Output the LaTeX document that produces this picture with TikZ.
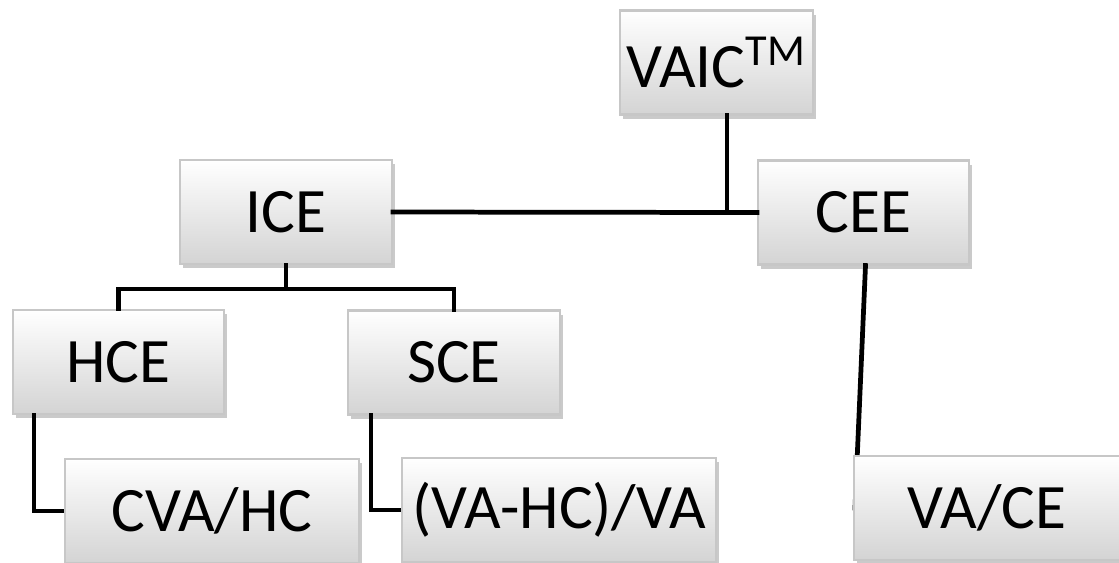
\documentclass[tikz,border=0pt]{standalone}
\usepackage{fontspec}
\setmainfont{Carlito}
\usetikzlibrary{shadows,calc}
\tikzstyle{every node}=[font=\fontsize{18}{20}\selectfont, text centered]
\tikzstyle{box} = [rectangle, draw=black!22, line width=0.6pt, top color=white, bottom color=black!17, minimum height=1.04cm, inner sep=0pt, drop shadow={shadow xshift=0.03cm, shadow yshift=-0.04cm, opacity=0.35, fill=black!60}]
\tikzstyle{line} = [draw, line width=1.35pt, line cap=rect]
\begin{document}
\begin{tikzpicture}
    \useasboundingbox (0,0) rectangle (11.19,-5.62);
    \coordinate (vaicNode) at (7.165,-0.625);
    \coordinate (iceNode) at (2.86,-2.12);
    \coordinate (ceeNode) at (8.635,-2.125);
    \coordinate (hceNode) at (1.185,-3.62);
    \coordinate (sceNode) at (4.54,-3.625);
    \coordinate (cvaNode) at (2.12,-5.11);
    \coordinate (vahcNode) at (5.59,-5.10);
    \coordinate (vaceNode) at (9.87,-5.08);

    % connectors first, boxes on top
    \node[box, minimum width=1.93cm] (vaic) at (vaicNode) {VAIC\textsuperscript{TM}};
    \node[box, minimum width=2.12cm] (ice) at (iceNode) {ICE};
    \node[box, minimum width=2.11cm] (cee) at (ceeNode) {CEE};
    \draw[line] (ice.east) -- (cee.west);
    \coordinate (join) at (7.27,-2.12);
    \draw[line] (vaic.south -| join) -- (join);

    \node[box, minimum width=2.11cm] (hce) at (hceNode) {HCE};
    \node[box, minimum width=2.12cm] (sce) at (sceNode) {SCE};
    \draw[line] (ice.south) -- ++(0,-0.24) coordinate (fork);
    \draw[line] (hce.north) |- (fork) -| (sce.north);

    \draw[line] ([xshift=0.22cm]hce.south west) |- (cvaNode);
    \draw[line] ([xshift=0.24cm]sce.south west) |- (vahcNode);
    \draw[line] ([xshift=0.02cm]cee.south) -- ($(vaceNode)+(-1.32,0)$);

    \node[box, minimum width=2.94cm] (cva) at (cvaNode) {CVA/HC};
    \node[box, minimum width=3.14cm] (vahc) at (vahcNode) {(VA-HC)/VA};
    \node[box, minimum width=2.66cm] (vace) at (vaceNode) {VA/CE};

 %   \draw[black!50] (0,0) rectangle (11.19,-5.62);
\end{tikzpicture}
\end{document}
